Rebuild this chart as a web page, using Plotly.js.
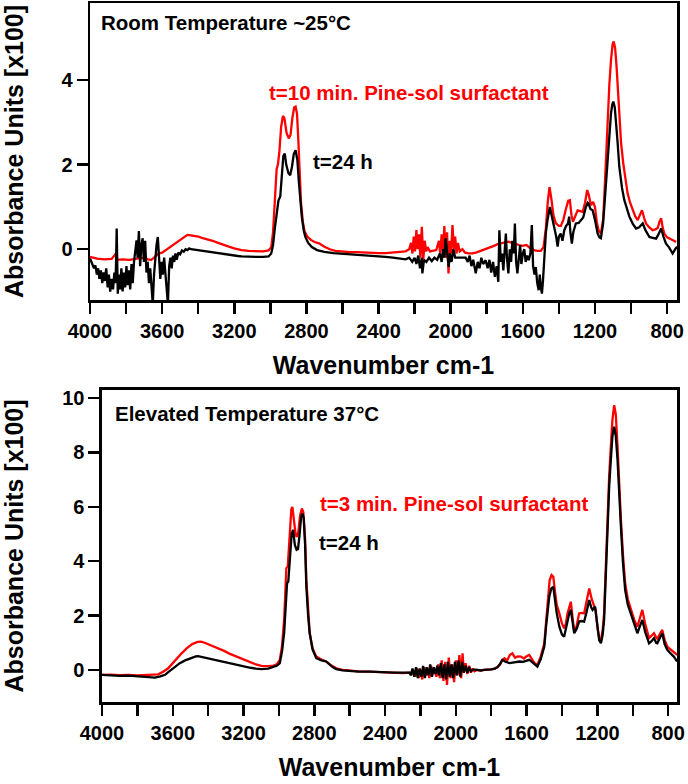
<!DOCTYPE html>
<html>
<head>
<meta charset="utf-8">
<script src="https://cdn.plot.ly/plotly-3.0.1.min.js"></script>
<style>html,body{margin:0;padding:0;background:#fff;}#chart{width:688px;height:784px;}</style>
</head>
<body>
<div id="chart"></div>
<script>
// ---- Top panel: Room Temperature ~25°C ----
const topRedWn = [4000,3960,3920,3880,3852,3850,3820,3780,3740,3700,3680,3660,3640,3620,3600,3580,3560,3540,3520,3500,3480,3460,3440,3420,3400,3380,3350,3320,3290,3260,3230,3200,3160,3120,3080,3040,3010,2995,2985,2975,2965,2958,2950,2940,2930,2922,2910,2898,2888,2878,2868,2860,2852,2845,2838,2830,2820,2810,2795,2775,2755,2730,2700,2670,2640,2600,2560,2520,2480,2440,2400,2360,2320,2280,2250,2230,2220,2212,2205,2198,2190,2183,2175,2168,2160,2152,2144,2136,2128,2115,2100,2080,2065,2058,2050,2042,2035,2028,2020,2012,2005,1998,1990,1982,1975,1968,1960,1950,1935,1920,1900,1880,1860,1840,1820,1800,1780,1760,1740,1720,1700,1680,1660,1640,1620,1600,1580,1560,1540,1520,1500,1485,1472,1462,1452,1442,1430,1417,1400,1389,1375,1361,1348,1339,1330,1322,1310,1296,1282,1268,1255,1243,1235,1222,1210,1200,1190,1180,1167,1155,1148,1138,1130,1120,1111,1102,1096,1088,1080,1072,1065,1055,1043,1030,1019,1005,991,977,963,950,939,928,917,900,880,865,852,842,833,824,815,800,787,770,750];
const topRedAbs = [-0.18,-0.22,-0.24,-0.23,-0.08,-0.25,-0.24,-0.25,-0.22,-0.2,-0.24,-0.25,-0.18,-0.1,-0.08,-0.02,0.05,0.12,0.18,0.24,0.3,0.34,0.33,0.32,0.3,0.27,0.24,0.2,0.15,0.1,0.06,0.02,-0.02,-0.04,-0.05,-0.05,-0.03,0.05,0.4,1.1,1.9,2.0,2.3,2.9,3.15,3.1,2.75,2.62,2.7,3.1,3.35,3.37,3.2,2.6,1.8,1.1,0.65,0.42,0.3,0.22,0.17,0.14,0.06,0.0,-0.04,-0.06,-0.07,-0.07,-0.08,-0.08,-0.09,-0.09,-0.07,-0.06,-0.05,0.0,0.15,-0.1,0.3,-0.05,0.45,0.0,0.35,-0.2,0.53,-0.25,0.2,-0.05,0.05,-0.05,-0.04,-0.02,0.2,-0.1,0.35,-0.05,0.55,-0.2,0.4,-0.57,0.2,-0.1,0.57,0.0,0.3,-0.1,0.15,-0.05,0.0,-0.08,-0.1,-0.1,-0.08,-0.05,-0.02,0.02,0.05,0.08,0.12,0.14,0.17,0.18,0.15,0.12,0.1,0.08,0.1,0.03,-0.02,-0.04,-0.04,0.05,0.5,1.1,1.47,1.2,0.8,0.61,0.55,0.55,0.7,0.95,1.15,1.16,0.8,0.65,0.8,0.92,0.9,0.88,1.1,1.4,1.3,1.04,1.12,1.0,0.65,0.45,0.37,0.7,1.24,2.2,3.21,3.9,4.47,4.85,4.91,4.75,4.31,3.7,3.05,2.5,2.03,1.6,1.32,1.1,0.92,0.78,0.69,0.8,0.92,0.75,0.61,0.52,0.45,0.47,0.5,0.65,0.73,0.5,0.37,0.28,0.26,0.22,0.17];

const topBlackWn = [4000,3992,3985,3978,3970,3962,3955,3948,3940,3932,3925,3918,3910,3902,3895,3888,3880,3872,3865,3858,3852,3846,3840,3833,3826,3819,3812,3805,3798,3791,3784,3777,3770,3763,3756,3749,3742,3736,3729,3722,3715,3708,3701,3694,3687,3680,3673,3666,3659,3652,3645,3638,3631,3624,3617,3610,3603,3596,3589,3582,3575,3568,3561,3554,3547,3540,3533,3526,3519,3510,3500,3490,3480,3470,3460,3450,3440,3425,3410,3395,3380,3360,3340,3320,3300,3280,3260,3240,3220,3200,3180,3160,3120,3080,3040,3010,2995,2985,2975,2965,2955,2945,2937,2928,2920,2912,2900,2890,2880,2870,2860,2850,2842,2835,2825,2815,2806,2790,2770,2741,2700,2650,2611,2550,2500,2450,2400,2361,2320,2280,2250,2230,2213,2200,2190,2180,2170,2160,2157,2148,2135,2120,2105,2090,2075,2060,2050,2042,2035,2028,2020,2011,2004,1995,1985,1975,1960,1940,1917,1905,1895,1885,1875,1861,1850,1840,1830,1820,1806,1795,1785,1775,1765,1755,1745,1736,1730,1722,1715,1708,1700,1694,1688,1680,1672,1665,1658,1650,1644,1637,1630,1622,1615,1608,1600,1592,1584,1576,1567,1558,1550,1543,1535,1528,1520,1512,1506,1500,1494,1488,1481,1472,1463,1450,1440,1426,1415,1407,1400,1390,1380,1370,1360,1350,1343,1336,1328,1320,1306,1290,1278,1265,1250,1240,1235,1225,1213,1200,1185,1175,1167,1155,1148,1138,1130,1120,1111,1104,1098,1090,1083,1074,1065,1050,1037,1022,1009,990,972,955,935,920,898,880,861,848,833,820,806,790,775,769,755,745];
const topBlackAbs = [-0.22,-0.3,-0.35,-0.45,-0.38,-0.6,-0.45,-0.7,-0.5,-0.8,-0.55,-0.75,-0.45,-0.9,-0.6,-1.0,-0.7,-0.95,-0.55,-0.8,0.49,-1.05,-0.6,-0.95,-0.45,-1.0,-0.55,-0.9,-0.4,-0.85,-0.5,-0.95,-0.35,-0.8,-0.3,-0.1,0.21,-0.2,0.43,-0.4,0.1,0.26,-0.3,0.2,-0.55,-0.3,-0.8,-0.45,-1.0,-1.3,-0.6,-0.2,0.1,0.29,-0.1,-0.7,-0.3,-0.6,-0.2,-0.5,-0.9,-1.3,-0.4,-0.2,-0.45,-0.15,-0.3,-0.1,-0.25,-0.08,-0.12,-0.03,-0.06,0.0,-0.02,0.02,0.0,-0.01,-0.02,-0.02,-0.04,-0.05,-0.06,-0.08,-0.09,-0.1,-0.12,-0.13,-0.14,-0.15,-0.16,-0.17,-0.18,-0.18,-0.18,-0.17,-0.1,0.1,0.5,0.9,1.15,1.25,1.7,2.2,2.26,2.0,1.8,1.75,1.95,2.25,2.34,2.1,1.6,1.15,0.75,0.45,0.29,0.15,0.05,-0.02,-0.06,-0.09,-0.1,-0.12,-0.13,-0.14,-0.16,-0.18,-0.2,-0.22,-0.24,-0.2,-0.3,-0.2,-0.35,-0.15,-0.45,-0.2,-0.57,-0.25,-0.3,-0.2,-0.28,-0.2,-0.25,-0.1,-0.3,0.0,-0.2,0.26,-0.15,-0.42,-0.1,-0.3,0.0,-0.2,-0.2,-0.2,-0.2,-0.3,-0.15,-0.4,-0.25,-0.57,-0.3,-0.45,-0.2,-0.35,-0.26,-0.45,-0.25,-0.55,-0.3,-0.65,-0.4,-0.77,0.45,-0.3,-0.1,-0.5,0.1,0.37,-0.2,-0.57,0.0,-0.3,0.2,-0.1,0.61,-0.3,-0.57,-0.1,0.1,-0.35,-0.1,0.0,-0.3,-0.15,-0.26,-0.1,0.57,-0.4,-0.6,-0.42,-0.8,-0.97,-0.6,-0.9,-1.05,-0.73,-0.1,0.4,0.69,1.0,0.8,0.53,0.3,0.06,0.3,0.37,0.2,0.45,0.55,0.6,0.77,0.4,0.13,0.4,0.61,0.62,0.69,0.75,1.0,1.1,1.08,0.95,0.92,0.7,0.37,0.28,0.26,0.6,1.0,1.6,2.26,2.8,3.21,3.42,3.49,3.35,3.05,2.5,1.95,1.45,1.16,0.95,0.77,0.6,0.49,0.52,0.61,0.45,0.29,0.27,0.25,0.35,0.49,0.3,0.13,0.05,-0.05,-0.1,0.0,0.06];

// ---- Bottom panel: Elevated Temperature 37°C ----
const botRedWn = [4000,3950,3900,3850,3800,3750,3700,3682,3650,3626,3600,3575,3550,3520,3490,3460,3440,3420,3400,3370,3340,3310,3280,3250,3220,3193,3160,3130,3099,3060,3030,3010,2995,2982,2970,2962,2958,2950,2940,2930,2924,2915,2905,2898,2890,2880,2870,2862,2852,2845,2835,2826,2810,2789,2760,2733,2700,2676,2640,2600,2550,2488,2440,2400,2350,2300,2262,2250,2240,2230,2220,2210,2200,2190,2180,2170,2160,2150,2140,2130,2120,2110,2100,2090,2080,2070,2060,2050,2040,2030,2020,2010,2000,1990,1980,1970,1962,1955,1945,1935,1925,1915,1905,1895,1880,1860,1840,1820,1800,1780,1765,1750,1740,1725,1710,1695,1681,1665,1650,1632,1615,1600,1585,1570,1555,1539,1520,1500,1490,1481,1470,1459,1449,1440,1430,1415,1400,1388,1378,1369,1358,1350,1340,1331,1318,1303,1290,1275,1262,1246,1232,1218,1210,1199,1190,1180,1170,1162,1152,1143,1133,1124,1115,1105,1096,1086,1077,1067,1055,1043,1028,1011,992,974,960,946,930,915,908,895,880,868,861,845,833,820,805,785,768,749];
const botRedAbs = [-0.18,-0.17,-0.19,-0.18,-0.2,-0.19,-0.18,-0.16,-0.05,0.06,0.25,0.45,0.61,0.8,0.95,1.03,1.04,1.0,0.95,0.87,0.78,0.7,0.6,0.52,0.45,0.37,0.28,0.2,0.15,0.14,0.16,0.22,0.37,0.9,1.9,3.0,3.74,3.8,5.0,5.9,6.0,5.4,4.95,4.9,5.1,5.7,5.94,5.8,4.8,3.31,2.1,1.35,0.8,0.49,0.38,0.31,0.15,0.06,0.0,-0.03,-0.05,-0.06,-0.08,-0.1,-0.11,-0.12,-0.1,-0.15,-0.02,-0.25,0.05,-0.3,0.0,-0.35,0.1,-0.2,0.05,-0.3,0.15,-0.15,0.0,-0.25,0.2,-0.3,0.35,-0.4,0.3,-0.55,0.45,-0.3,0.2,-0.45,0.35,-0.2,0.55,-0.3,0.61,-0.1,0.25,-0.15,0.15,-0.1,0.05,-0.05,0.0,-0.02,0.0,0.0,0.02,0.05,0.1,0.2,0.35,0.43,0.35,0.55,0.61,0.45,0.5,0.49,0.42,0.5,0.55,0.4,0.25,0.18,0.5,0.98,1.8,2.7,3.3,3.49,3.43,2.9,2.4,2.08,1.7,1.53,1.7,2.08,2.4,2.51,1.9,1.41,1.6,2.08,2.1,2.08,2.5,3.0,2.6,2.33,2.2,1.53,1.2,1.04,1.5,2.08,3.8,5.76,7.2,8.21,9.2,9.74,9.4,8.21,6.8,5.51,4.2,3.19,2.6,2.21,1.85,1.59,1.9,2.21,1.7,1.3,1.17,1.25,1.35,1.2,1.15,1.35,1.47,1.1,0.86,0.75,0.67,0.55];

const botBlackWn = [4000,3950,3900,3850,3800,3750,3701,3670,3644,3620,3588,3560,3530,3500,3470,3457,3430,3400,3370,3340,3310,3280,3250,3220,3193,3160,3130,3099,3060,3030,3010,2995,2982,2970,2962,2954,2947,2938,2928,2920,2910,2900,2892,2883,2875,2868,2860,2852,2845,2835,2826,2810,2789,2760,2733,2700,2676,2640,2600,2550,2488,2440,2400,2350,2300,2262,2255,2245,2235,2225,2215,2205,2195,2185,2175,2165,2155,2145,2135,2125,2115,2105,2095,2085,2075,2065,2055,2045,2035,2025,2015,2005,1995,1985,1975,1965,1955,1945,1935,1925,1915,1900,1880,1860,1840,1820,1800,1780,1765,1750,1737,1720,1697,1680,1660,1640,1620,1600,1585,1570,1555,1539,1520,1500,1490,1472,1460,1449,1440,1430,1415,1400,1388,1378,1369,1358,1350,1340,1331,1318,1303,1290,1275,1262,1246,1235,1227,1213,1205,1199,1190,1180,1170,1162,1152,1143,1133,1124,1115,1105,1096,1086,1077,1067,1055,1043,1028,1011,992,974,960,946,930,915,908,895,880,868,861,845,833,820,805,785,768,749];
const botBlackAbs = [-0.18,-0.2,-0.22,-0.21,-0.24,-0.25,-0.28,-0.24,-0.18,-0.05,0.12,0.25,0.35,0.44,0.5,0.51,0.47,0.42,0.38,0.34,0.29,0.25,0.2,0.16,0.12,0.08,0.05,0.03,0.05,0.1,0.16,0.25,0.7,1.4,2.5,3.19,3.25,4.3,5.0,5.15,4.6,4.42,4.45,5.0,5.6,5.76,5.6,4.6,3.06,2.0,1.35,0.75,0.43,0.35,0.31,0.12,0.03,-0.02,-0.04,-0.06,-0.06,-0.08,-0.1,-0.1,-0.1,-0.1,-0.2,0.05,-0.25,0.1,-0.3,0.05,-0.25,0.15,-0.3,0.1,-0.2,0.2,-0.25,0.1,-0.15,0.15,-0.2,0.25,-0.3,0.2,-0.35,0.3,-0.25,0.2,-0.3,0.3,-0.2,0.35,-0.25,0.3,-0.1,0.15,-0.1,0.1,-0.05,0.02,0.0,-0.02,0.0,0.0,0.02,0.05,0.1,0.22,0.37,0.3,0.25,0.27,0.3,0.31,0.3,0.33,0.37,0.3,0.2,0.12,0.4,0.86,1.6,2.7,3.0,3.06,2.6,2.1,1.59,1.3,1.22,1.5,1.84,2.1,2.21,1.7,1.35,1.5,1.78,1.8,1.78,2.1,2.57,2.3,2.21,2.33,1.9,1.47,1.1,0.98,1.3,1.84,3.5,5.51,6.8,7.72,8.6,8.95,8.6,7.72,6.4,5.27,3.9,2.94,2.4,2.08,1.65,1.35,1.6,1.84,1.4,1.1,0.98,1.05,1.17,1.0,0.98,1.2,1.35,0.95,0.74,0.6,0.49,0.31];

const labels = {
  topTitle: 'Room Temperature ~25°C',
  topRed: 't=10 min. Pine-sol surfactant',
  topBlack: 't=24 h',
  botTitle: 'Elevated Temperature 37°C',
  botRed: 't=3 min. Pine-sol surfactant',
  botBlack: 't=24 h'
};

const FONT = 'Arial, "Liberation Sans", Helvetica, sans-serif';
const RED = '#ff0000';

const traces = [
  {x: topRedWn, y: topRedAbs, xaxis:'x', yaxis:'y', type:'scatter', mode:'lines', line:{color:RED, width:2.3}, name:labels.topRed},
  {x: topBlackWn, y: topBlackAbs, xaxis:'x', yaxis:'y', type:'scatter', mode:'lines', line:{color:'#000', width:2.3}, name:labels.topBlack},
  {x: botRedWn, y: botRedAbs, xaxis:'x2', yaxis:'y2', type:'scatter', mode:'lines', line:{color:RED, width:2.3}, name:labels.botRed},
  {x: botBlackWn, y: botBlackAbs, xaxis:'x2', yaxis:'y2', type:'scatter', mode:'lines', line:{color:'#000', width:2.3}, name:labels.botBlack}
];

function xAx(domain, range) {
  return {
    domain: domain, range: range,
    showline: true, linewidth: 2.5, linecolor: '#000', mirror: true,
    showgrid: false, zeroline: false,
    ticks: 'outside', ticklen: 11, tickwidth: 2.5, tickcolor: '#000',
    tick0: 0, dtick: 400,
    minor: {dtick: 200, ticks: 'outside', ticklen: 11, tickwidth: 2.5, tickcolor: '#000', showgrid: false},
    tickfont: {family: FONT, size: 20, color: '#000', weight: 'bold'},
    title: {text: 'Wavenumber cm-1', font: {family: FONT, size: 25, color: '#000', weight: 'bold'}, standoff: 16}
  };
}
function yAx(domain, range) {
  return {
    domain: domain, range: range,
    showline: true, linewidth: 2.5, linecolor: '#000', mirror: true,
    showgrid: false, zeroline: false,
    ticks: 'outside', ticklen: 11, tickwidth: 2.5, tickcolor: '#000',
    tick0: 0, dtick: 2,
    tickfont: {family: FONT, size: 20, color: '#000', weight: 'bold'},
    title: {text: 'Absorbance Units [x100]', font: {family: FONT, size: 25, color: '#000', weight: 'bold'}, standoff: 32}
  };
}

const layout = {
  width: 688, height: 784,
  margin: {l: 90, r: 11, t: 3, b: 82},
  paper_bgcolor: '#fff', plot_bgcolor: '#fff',
  showlegend: false, hovermode: false,
  xaxis: Object.assign(xAx([0, 1], [4000, 745]), {anchor: 'y'}),
  yaxis: Object.assign(yAx([0.5751, 1], [-1.2, 5.82]), {anchor: 'x'}),
  xaxis2: Object.assign(xAx([0.02044, 1], [4000, 750]), {anchor: 'y2'}),
  yaxis2: Object.assign(yAx([0, 0.4464], [-1.18, 10.3]), {anchor: 'x2'}),
  annotations: [
    {xref:'x domain', yref:'y domain', x:0.015, y:0.936, xanchor:'left', yanchor:'middle', showarrow:false, text:labels.topTitle, font:{family:FONT, size:20.5, color:'#000', weight:'bold'}},
    {xref:'x domain', yref:'y domain', x:0.301, y:0.700, xanchor:'left', yanchor:'middle', showarrow:false, text:labels.topRed, font:{family:FONT, size:20.5, color:RED, weight:'bold'}},
    {xref:'x domain', yref:'y domain', x:0.376, y:0.467, xanchor:'left', yanchor:'middle', showarrow:false, text:labels.topBlack, font:{family:FONT, size:20.5, color:'#000', weight:'bold'}},
    {xref:'x2 domain', yref:'y2 domain', x:0.019, y:0.926, xanchor:'left', yanchor:'middle', showarrow:false, text:labels.botTitle, font:{family:FONT, size:20.5, color:'#000', weight:'bold'}},
    {xref:'x2 domain', yref:'y2 domain', x:0.375, y:0.635, xanchor:'left', yanchor:'middle', showarrow:false, text:labels.botRed, font:{family:FONT, size:20.5, color:RED, weight:'bold'}},
    {xref:'x2 domain', yref:'y2 domain', x:0.374, y:0.510, xanchor:'left', yanchor:'middle', showarrow:false, text:labels.botBlack, font:{family:FONT, size:20.5, color:'#000', weight:'bold'}}
  ]
};

Plotly.newPlot('chart', traces, layout, {displayModeBar: false, staticPlot: true});
</script>
</body>
</html>
